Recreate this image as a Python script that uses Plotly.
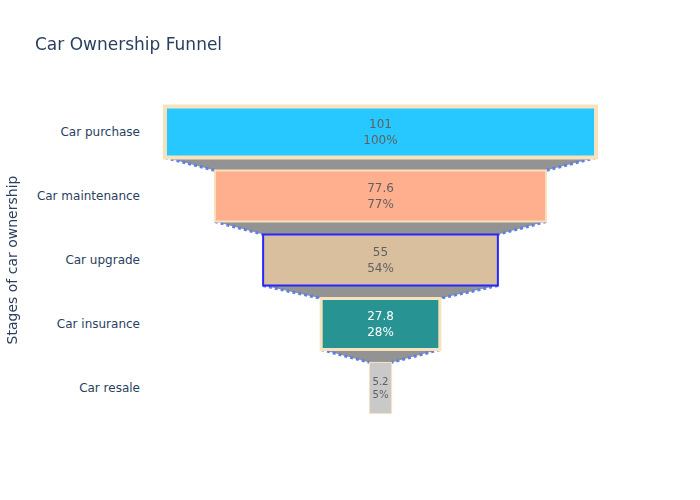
import plotly.graph_objects as go

stages = ["Car purchase", "Car maintenance", "Car upgrade", "Car insurance", "Car resale"]
values = [101, 77.6, 55, 27.8, 5.2]
colors = ["deepskyblue", "lightsalmon", "tan", "teal", "silver"]
line_widths = [4, 2, 2, 3, 1]
line_colors = ["wheat", "wheat", "blue", "wheat", "wheat"]

fig = go.Figure(go.Funnel(
    y=stages,
    x=values,
    textposition="inside",
    textinfo="value+percent initial",
    opacity=0.85,
    marker={"color": colors, "line": {"width": line_widths, "color": line_colors}},
    connector={"line": {"color": "royalblue", "dash": "dot", "width": 3}},
))
fig.update_layout(
    template="plotly_white",
    font=dict(family="DejaVu Sans"),
    title="Car Ownership Funnel",
    yaxis_title="Stages of car ownership",
    width=700, height=500,
)
fig.write_html("out.html")
